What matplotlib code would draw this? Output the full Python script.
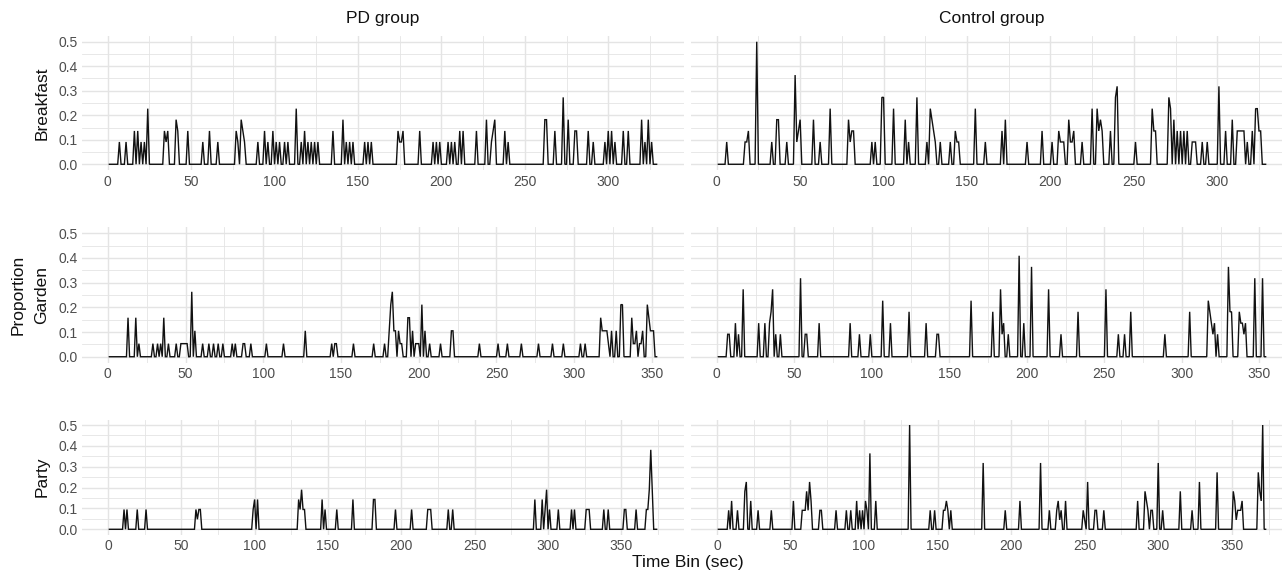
import numpy as np
import matplotlib
matplotlib.use("Agg")
import matplotlib.pyplot as plt
from matplotlib.ticker import MultipleLocator

plt.rcParams['font.family'] = ['Liberation Sans', 'DejaVu Sans']

# ---------------- data: (time bin in sec, proportion) for non-zero bins ----------------
groups = ["PD group", "Control group"]
scenes = ["Breakfast", "Garden", "Party"]

# number of 1-second bins in each panel
n_bins_pd = [329, 353, 374]
n_bins_ctrl = [329, 354, 373]

pd_breakfast = [
    (7, .091), (11, .091), (16, .136), (18, .136), (20, .091), (22, .091), (24, .227),
    (34, .136), (35, .091), (36, .136), (41, .182), (42, .136), (48, .136), (57, .091),
    (61, .136), (66, .091), (77, .136), (78, .091), (80, .182), (81, .136), (82, .091),
    (90, .091), (94, .136), (96, .091), (99, .136), (101, .091), (103, .091), (106, .091),
    (108, .091), (113, .227), (116, .091), (118, .136), (120, .091), (122, .091),
    (124, .091), (126, .091), (135, .136), (141, .182), (143, .091), (145, .091),
    (147, .091), (154, .091), (156, .091), (158, .091), (174, .136), (175, .091),
    (176, .091), (177, .136), (187, .136), (195, .091), (197, .091), (199, .091),
    (204, .091), (206, .091), (208, .091), (211, .136), (213, .136), (221, .136),
    (227, .182), (230, .091), (231, .136), (232, .182), (238, .136), (240, .091),
    (262, .182), (263, .182), (268, .136), (273, .273), (276, .182), (280, .136),
    (281, .136), (288, .136), (291, .091), (298, .091), (300, .136), (302, .136),
    (304, .091), (309, .136), (312, .136), (320, .182), (322, .091), (324, .182),
    (326, .091),
]

ctrl_breakfast = [
    (6, .091), (17, .091), (18, .091), (19, .136), (24, .5), (33, .091), (36, .182),
    (37, .182), (42, .091), (47, .364), (48, .091), (49, .136), (50, .182), (58, .182),
    (62, .091), (68, .227), (79, .182), (80, .091), (81, .136), (82, .136), (93, .091),
    (95, .091), (99, .273), (100, .273), (106, .227), (113, .182), (115, .091),
    (120, .273), (126, .091), (128, .227), (129, .182), (130, .136), (131, .091),
    (134, .091), (140, .091), (143, .136), (144, .091), (145, .091), (155, .227),
    (161, .091), (171, .136), (173, .182), (186, .091), (195, .136), (201, .091),
    (205, .136), (206, .091), (207, .091), (208, .091), (211, .182), (212, .091),
    (213, .091), (214, .136), (219, .091), (225, .227), (228, .227), (229, .136),
    (230, .182), (231, .136), (236, .136), (239, .273), (240, .318), (251, .091),
    (261, .227), (262, .136), (263, .136), (271, .273), (272, .227), (274, .182),
    (276, .136), (278, .136), (280, .136), (282, .136), (285, .091), (286, .091),
    (287, .091), (291, .091), (294, .091), (301, .318), (305, .136), (309, .182),
    (312, .136), (313, .136), (314, .136), (315, .136), (316, .136), (318, .091),
    (321, .136), (323, .227), (324, .227), (325, .136), (326, .136),
]

pd_garden = [
    (13, .158), (18, .158), (20, .053), (29, .053), (32, .053), (34, .053), (36, .158),
    (39, .053), (44, .053), (47, .053), (48, .053), (49, .053), (50, .053), (51, .053),
    (54, .263), (56, .105), (61, .053), (65, .053), (68, .053), (71, .053), (74, .053),
    (80, .053), (82, .053), (87, .053), (88, .053), (92, .053), (102, .053), (113, .053),
    (127, .105), (144, .053), (146, .053), (147, .053), (158, .053), (171, .053),
    (178, .053), (181, .105), (182, .211), (183, .263), (184, .105), (185, .105),
    (187, .105), (188, .053), (189, .053), (193, .158), (194, .158), (196, .105),
    (198, .053), (199, .053), (200, .053), (202, .211), (204, .105), (207, .053),
    (214, .053), (221, .105), (222, .105), (239, .053), (251, .053), (257, .053),
    (266, .053), (277, .053), (286, .053), (293, .053), (304, .053), (307, .053),
    (317, .158), (318, .105), (319, .105), (320, .105), (321, .105), (322, .053),
    (324, .105), (327, .105), (330, .211), (331, .211), (337, .158), (338, .053),
    (339, .053), (340, .105), (342, .053), (343, .053), (344, .105), (347, .211),
    (348, .158), (349, .105), (350, .105), (351, .105),
]

ctrl_garden = [
    (7, .091), (8, .091), (12, .136), (14, .091), (17, .273), (27, .136), (31, .136),
    (34, .136), (35, .182), (36, .273), (38, .091), (41, .091), (54, .318), (57, .091),
    (58, .091), (66, .136), (86, .136), (92, .091), (99, .091), (107, .227), (112, .136),
    (124, .182), (135, .136), (142, .091), (143, .091), (164, .227), (178, .182),
    (183, .273), (184, .091), (185, .136), (188, .091), (195, .409), (198, .136),
    (203, .364), (214, .273), (222, .091), (233, .182), (251, .273), (259, .091),
    (263, .091), (267, .182), (289, .091), (305, .182), (317, .227), (318, .182),
    (319, .136), (320, .091), (321, .136), (323, .091), (330, .364), (331, .182),
    (332, .182), (337, .182), (338, .136), (339, .136), (340, .091), (341, .136),
    (347, .318), (352, .318),
]

pd_party = [
    (11, .095), (13, .095), (20, .095), (26, .095), (60, .095), (61, .048), (62, .095),
    (63, .095), (99, .095), (100, .143), (102, .143), (130, .143), (131, .095),
    (132, .190), (133, .095), (134, .095), (146, .143), (148, .095), (156, .095),
    (167, .143), (181, .143), (182, .143), (196, .095), (207, .095), (218, .095),
    (219, .095), (220, .095), (232, .095), (235, .095), (291, .143), (296, .143),
    (298, .095), (299, .190), (301, .095), (307, .095), (316, .095), (318, .095),
    (326, .095), (327, .095), (328, .095), (338, .095), (341, .095), (352, .095),
    (353, .095), (360, .095), (367, .095), (368, .095), (369, .190), (370, .381),
    (371, .190),
]

ctrl_party = [
    (8, .091), (10, .136), (14, .091), (19, .182), (20, .227), (23, .136), (28, .091),
    (37, .091), (52, .136), (58, .091), (59, .091), (60, .091), (61, .182), (62, .091),
    (63, .227), (64, .136), (70, .091), (71, .091), (81, .091), (88, .091), (91, .091),
    (95, .136), (97, .091), (99, .091), (101, .136), (102, .091), (104, .364),
    (108, .136), (131, .5), (145, .091), (148, .091), (154, .091), (155, .091),
    (156, .136), (157, .091), (159, .091), (181, .318), (196, .091), (206, .136),
    (220, .318), (226, .091), (231, .091), (232, .136), (233, .045), (234, .091),
    (237, .136), (249, .091), (250, .045), (252, .227), (257, .091), (258, .091),
    (263, .091), (286, .136), (291, .182), (292, .136), (293, .091), (295, .091),
    (296, .091), (300, .318), (303, .091), (315, .182), (323, .091), (328, .227),
    (340, .273), (351, .182), (352, .136), (353, .045), (354, .091), (355, .091),
    (356, .091), (357, .136), (368, .273), (369, .182), (370, .136), (371, .5),
]

panel_data = {
    ("PD group", "Breakfast"): (n_bins_pd[0], pd_breakfast),
    ("PD group", "Garden"): (n_bins_pd[1], pd_garden),
    ("PD group", "Party"): (n_bins_pd[2], pd_party),
    ("Control group", "Breakfast"): (n_bins_ctrl[0], ctrl_breakfast),
    ("Control group", "Garden"): (n_bins_ctrl[1], ctrl_garden),
    ("Control group", "Party"): (n_bins_ctrl[2], ctrl_party),
}

x_ticks = [0, 50, 100, 150, 200, 250, 300, 350]
y_ticks = [0.0, 0.1, 0.2, 0.3, 0.4, 0.5]
y_tick_labels = ["0.0", "0.1", "0.2", "0.3", "0.4", "0.5"]


def build_series(n, events):
    t = np.arange(1, n + 1)
    y = np.zeros(n)
    for sec, val in events:
        y[sec - 1] = val
    return t, y


# ---------------- layout (pixels) ----------------
W, H = 1282, 572
fig = plt.figure(figsize=(W / 100, H / 100), dpi=100)
fig.patch.set_facecolor("white")

col_x = [(82, 684), (691, 1293)]
row_y = [(35.6, 170.4), (227.1, 362.9), (419.8, 534.5)]

grid_col = "#E4E4E4"
text_col = "#4D4D4D"

for ci, g in enumerate(groups):
    for ri, s in enumerate(scenes):
        x0, x1 = col_x[ci]
        y0, y1 = row_y[ri]
        ax = fig.add_axes([x0 / W, 1 - y1 / H, (x1 - x0) / W, (y1 - y0) / H])
        n, events = panel_data[(g, s)]
        t, y = build_series(n, events)
        ax.plot(t, y, color="#111111", lw=1.0, solid_joinstyle="miter")
        pad = 0.05 * (n - 1)
        lo, hi = 1 - pad, n + pad
        ax.set_xticks([v for v in x_ticks if lo <= v <= hi])
        ax.xaxis.set_minor_locator(MultipleLocator(25))
        ax.set_yticks(y_ticks)
        ax.yaxis.set_minor_locator(MultipleLocator(0.05))
        ax.set_xlim(lo, hi)
        ax.set_ylim(-0.025, 0.525)
        ax.grid(which="major", color=grid_col, lw=1.0)
        ax.grid(which="minor", color=grid_col, lw=0.6)
        ax.set_axisbelow(True)
        for sp in ax.spines.values():
            sp.set_visible(False)
        ax.tick_params(which="both", length=0, labelsize=10, labelcolor=text_col, pad=3)
        if ci == 0:
            ax.set_yticklabels(y_tick_labels)
        else:
            ax.set_yticklabels([])
        ax.set_facecolor("white")

# column titles
fig.text(383 / W, 1 - 18 / H, "PD group", ha="center", va="center", fontsize=12.5, color="#111111")
fig.text(992 / W, 1 - 18 / H, "Control group", ha="center", va="center", fontsize=12.5, color="#111111")

# row labels
for ri, s in enumerate(scenes):
    yc = (row_y[ri][0] + row_y[ri][1]) / 2
    fig.text(42 / W, 1 - yc / H, s, rotation=90, ha="center", va="center", fontsize=12.5, color="#111111")
fig.text(18 / W, 1 - ((row_y[1][0] + row_y[1][1]) / 2) / H, "Proportion", rotation=90,
         ha="center", va="center", fontsize=12.5, color="#111111")

fig.text(688 / W, 1 - 563 / H, "Time Bin (sec)", ha="center", va="center", fontsize=12.5, color="#111111")

fig.savefig("out.png", dpi=100)
